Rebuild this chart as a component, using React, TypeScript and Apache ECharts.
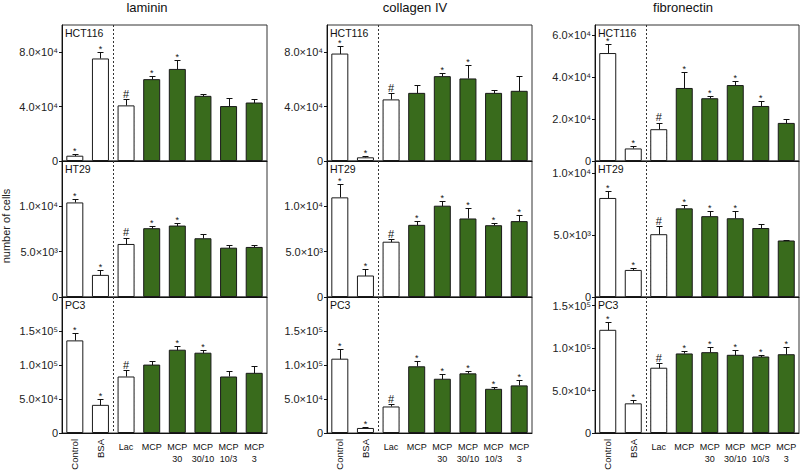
import React, { useEffect, useRef } from 'react';
import * as echarts from 'echarts';

// ---------- data ----------
const categories = ['Control', 'BSA', 'Lac', 'MCP', 'MCP 30', 'MCP 30/10', 'MCP 10/3', 'MCP 3'];
const xLabels = ['Control', 'BSA', 'Lac', 'MCP', 'MCP\n30', 'MCP\n30/10', 'MCP\n10/3', 'MCP\n3'];
const matrices = ['laminin', 'collagen IV', 'fibronectin'];
const cellLines = ['HCT116', 'HT29', 'PC3'];

// laminin
const lamininHCT116 = [3900, 75400, 40900, 60200, 67700, 47900, 40400, 43000];
const lamininHCT116Err = [1300, 4400, 4400, 2200, 6900, 1000, 5600, 2300];
const lamininHCT116Marks = ['*', '*', '#', '*', '*', '', '', ''];
const lamininHT29 = [10430, 2440, 5850, 7590, 7880, 6480, 5440, 5520];
const lamininHT29Err = [400, 520, 700, 220, 270, 440, 300, 180];
const lamininHT29Marks = ['*', '*', '#', '*', '*', '', '', ''];
const lamininPC3 = [136200, 41400, 83100, 100600, 122500, 118100, 83100, 88500];
const lamininPC3Err = [10200, 8200, 9300, 5800, 4900, 4400, 8800, 10200];
const lamininPC3Marks = ['*', '*', '#', '', '*', '*', '', ''];

// collagen IV
const collagenHCT116 = [79000, 2700, 45300, 50100, 62400, 60700, 50100, 51600];
const collagenHCT116Err = [5200, 1000, 4400, 5900, 2000, 10000, 2000, 10800];
const collagenHCT116Marks = ['*', '*', '#', '', '*', '*', '', ''];
const collagenHT29 = [10990, 2370, 6100, 7960, 10070, 8660, 7920, 8370];
const collagenHT29Err = [1490, 670, 270, 370, 550, 1150, 260, 620];
const collagenHT29Marks = ['*', '*', '#', '*', '*', '*', '*', '*'];
const collagenPC3 = [109300, 7400, 39000, 98100, 79800, 87700, 65000, 70000];
const collagenPC3Err = [13900, 1500, 3400, 7400, 7400, 3900, 2900, 7800];
const collagenPC3Marks = ['*', '*', '#', '*', '*', '*', '*', '*'];

// fibronectin
const fibronectinHCT116 = [51600, 6000, 15200, 34900, 30000, 36300, 26300, 18200];
const fibronectinHCT116Err = [4400, 1100, 3000, 7600, 900, 1800, 2600, 2100];
const fibronectinHCT116Marks = ['*', '*', '#', '*', '*', '*', '*', ''];
const fibronectinHT29 = [8010, 2190, 5080, 7170, 6540, 6370, 5580, 4570];
const fibronectinHT29Err = [600, 190, 660, 290, 380, 550, 300, 80];
const fibronectinHT29Marks = ['*', '*', '#', '*', '*', '*', '', ''];
const fibronectinPC3 = [121400, 34900, 76800, 93600, 95100, 92000, 90000, 92700];
const fibronectinPC3Err = [8900, 3500, 5000, 2700, 5500, 5100, 2000, 8700];
const fibronectinPC3Marks = ['*', '*', '#', '*', '*', '*', '*', '*'];

// axis ticks / maxima
const ticksTop = [0, 40000, 80000];
const ticksMid = [0, 5000, 10000];
const ticksBot = [0, 50000, 100000, 150000];
const ticksFibTop = [0, 20000, 40000, 60000];
const maxLaminin = [100000, 15000, 200000];
const maxCollagen = [100000, 15000, 200000];
const maxFibronectin = [65000, 11000, 160000];

// ---------- layout / style ----------
const COL_LEFT = [62, 327, 595];
const COL_W = [205, 205, 204];
const ROW_TOP = [25, 161, 297];
const ROW_H = 136;
const TITLE_X = [147, 415, 683];
const BAR_W = 17;
const GREEN = '#396b1c';
const FONT = 'Liberation Sans, Arial, sans-serif';

const SUP = ['⁰', '¹', '²', '³', '⁴', '⁵', '⁶', '⁷'];
function sci(v: number): string {
  if (v === 0) return '0';
  const e = Math.floor(Math.log10(v) + 1e-9);
  const m = v / Math.pow(10, e);
  return m.toFixed(1) + '×10' + SUP[e];
}

type Panel = { vals: number[]; err: number[]; marks: string[]; max: number; ticks: number[] };

function buildOption() {
  const panels: Panel[][] = [
    [
      { vals: lamininHCT116, err: lamininHCT116Err, marks: lamininHCT116Marks, max: maxLaminin[0], ticks: ticksTop },
      { vals: lamininHT29, err: lamininHT29Err, marks: lamininHT29Marks, max: maxLaminin[1], ticks: ticksMid },
      { vals: lamininPC3, err: lamininPC3Err, marks: lamininPC3Marks, max: maxLaminin[2], ticks: ticksBot },
    ],
    [
      { vals: collagenHCT116, err: collagenHCT116Err, marks: collagenHCT116Marks, max: maxCollagen[0], ticks: ticksTop },
      { vals: collagenHT29, err: collagenHT29Err, marks: collagenHT29Marks, max: maxCollagen[1], ticks: ticksMid },
      { vals: collagenPC3, err: collagenPC3Err, marks: collagenPC3Marks, max: maxCollagen[2], ticks: ticksBot },
    ],
    [
      { vals: fibronectinHCT116, err: fibronectinHCT116Err, marks: fibronectinHCT116Marks, max: maxFibronectin[0], ticks: ticksFibTop },
      { vals: fibronectinHT29, err: fibronectinHT29Err, marks: fibronectinHT29Marks, max: maxFibronectin[1], ticks: ticksMid },
      { vals: fibronectinPC3, err: fibronectinPC3Err, marks: fibronectinPC3Marks, max: maxFibronectin[2], ticks: ticksBot },
    ],
  ];

  const grid: any[] = [];
  const xAxis: any[] = [];
  const yAxis: any[] = [];
  const series: any[] = [];
  const graphic: any[] = [];

  for (let c = 0; c < 3; c++) {
    graphic.push({
      type: 'text', x: TITLE_X[c], y: 7,
      style: { text: matrices[c], fontSize: 13, fontFamily: FONT, fill: '#111', align: 'center', verticalAlign: 'middle' },
    });
    for (let r = 0; r < 3; r++) {
      const p = grid.length;
      const pd = panels[c][r];
      grid.push({
        left: COL_LEFT[c], top: ROW_TOP[r], width: COL_W[c], height: ROW_H,
        show: true, borderColor: '#333', borderWidth: 1, backgroundColor: 'transparent',
      });
      xAxis.push({
        type: 'category', gridIndex: p, data: categories,
        axisLine: { show: true, lineStyle: { color: '#111', width: 1 } },
        axisTick: { show: false }, axisLabel: { show: false }, splitLine: { show: false },
      });
      yAxis.push({
        type: 'value', gridIndex: p, min: 0, max: pd.max,
        axisLine: { show: true, lineStyle: { color: '#111', width: 1 } },
        axisTick: { show: true, length: 3, customValues: pd.ticks, lineStyle: { color: '#111' } },
        axisLabel: {
          show: true, customValues: pd.ticks, margin: 4, fontSize: 11, fontFamily: FONT, color: '#222',
          formatter: (v: number) => sci(v),
        },
        splitLine: { show: false },
      });
      graphic.push({
        type: 'text', x: COL_LEFT[c] + 3, y: ROW_TOP[r] + 2,
        style: { text: cellLines[r], fontSize: 10.5, fontFamily: FONT, fill: '#111', align: 'left', verticalAlign: 'top' },
      });
      series.push({
        type: 'bar', xAxisIndex: p, yAxisIndex: p, barWidth: BAR_W,
        data: pd.vals.map((v, i) => ({
          value: v,
          itemStyle: { color: i < 3 ? '#fff' : GREEN, borderColor: '#1a1a1a', borderWidth: 1 },
        })),
      });
      const marks = pd.marks;
      const isBottom = r === 2;
      series.push({
        type: 'custom', xAxisIndex: p, yAxisIndex: p, clip: false,
        encode: { x: 0, y: 1 },
        data: pd.vals.map((v, i) => [i, v, pd.err[i]]),
        renderItem: (params: any, api: any) => {
          const i = api.value(0);
          const v = api.value(1);
          const e = api.value(2);
          const base = api.coord([i, 0]);
          const top = api.coord([i, v]);
          const et = api.coord([i, v + e]);
          const cs = params.coordSys;
          const cx = Math.round(base[0]) + 0.5;
          const children: any[] = [];
          // stripes for Lac
          if (i === 2) {
            const x1 = base[0] - BAR_W / 2 + 0.5;
            const x2 = base[0] + BAR_W / 2 - 0.5;
            for (let y = Math.round(base[1]) - 3.5; y > top[1] + 1.5; y -= 4) {
              children.push({ type: 'line', shape: { x1, y1: y, x2, y2: y }, style: { stroke: '#222', lineWidth: 1 } });
            }
          }
          // error bar
          const ty = Math.round(top[1]) + 0.5;
          const ey = Math.round(et[1]) + 0.5;
          children.push({ type: 'line', shape: { x1: cx, y1: ty, x2: cx, y2: ey }, style: { stroke: '#111', lineWidth: 1 } });
          children.push({ type: 'line', shape: { x1: cx - 3, y1: ey, x2: cx + 3, y2: ey }, style: { stroke: '#111', lineWidth: 1 } });
          const m = marks[i];
          if (m) {
            children.push({
              type: 'text', x: base[0], y: m === '#' ? et[1] : et[1] + 1.5,
              style: { text: m, fontSize: m === '#' ? 11 : 9, fontFamily: FONT, fill: '#111', align: 'center', verticalAlign: 'bottom' },
            });
          }
          // dashed separator between BSA and Lac
          if (i === 0) {
            const b1 = api.coord([1, 0]);
            const b2 = api.coord([2, 0]);
            const sx = Math.round((b1[0] + b2[0]) / 2) + 0.5;
            children.push({
              type: 'line', shape: { x1: sx, y1: cs.y, x2: sx, y2: cs.y + cs.height },
              style: { stroke: '#333', lineWidth: 1, lineDash: [2, 2] },
            });
          }
          // category labels under the bottom row
          if (isBottom) {
            if (i < 2) {
              children.push({
                type: 'text', x: base[0], y: base[1] + 6, rotation: Math.PI / 2,
                style: { text: xLabels[i], fontSize: 9.5, fontFamily: FONT, fill: '#111', align: 'right', verticalAlign: 'middle' },
              });
            } else {
              children.push({
                type: 'text', x: base[0], y: base[1] + 8,
                style: { text: xLabels[i], fontSize: 9, lineHeight: 12, fontFamily: FONT, fill: '#111', align: 'center', verticalAlign: 'top' },
              });
            }
          }
          return { type: 'group', children };
        },
      });
    }
  }

  graphic.push({
    type: 'text', x: 6, y: 226, rotation: Math.PI / 2,
    style: { text: 'number of cells', fontSize: 11, fontFamily: FONT, fill: '#222', align: 'center', verticalAlign: 'middle' },
  });

  return {
    animation: false,
    backgroundColor: '#fff',
    textStyle: { fontFamily: FONT },
    grid, xAxis, yAxis, series, graphic,
  };
}

export default function App() {
  const ref = useRef<HTMLDivElement>(null);
  useEffect(() => {
    if (!ref.current) return;
    const chart = echarts.init(ref.current, null, { renderer: 'svg' });
    chart.setOption(buildOption() as any);
    return () => chart.dispose();
  }, []);
  return <div ref={ref} style={{ position: 'absolute', left: 0, top: 0, width: 800, height: 471 }} />;
}
